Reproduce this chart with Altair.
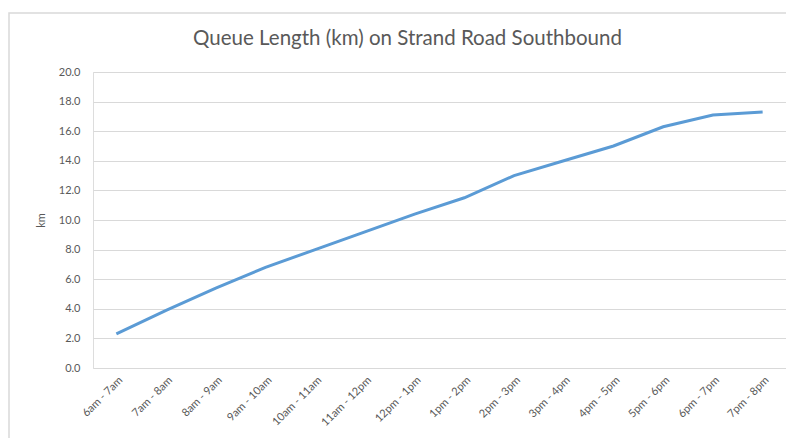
import altair as alt
import pandas as pd

categories = ["6am - 7am", "7am - 8am", "8am - 9am", "9am - 10am", "10am - 11am",
              "11am - 12pm", "12pm - 1pm", "1pm - 2pm", "2pm - 3pm", "3pm - 4pm",
              "4pm - 5pm", "5pm - 6pm", "6pm - 7pm", "7pm - 8pm"]
queue_km = [2.3, 3.9, 5.4, 6.8, 8.0, 9.2, 10.4, 11.5, 13.0, 14.0, 15.0, 16.3, 17.1, 17.3]
y_ticks = [0, 2, 4, 6, 8, 10, 12, 14, 16, 18, 20]

df = pd.DataFrame({"slot": categories, "km": queue_km})

W, H = 693, 296
FONT = "Lato"
GREY = "#595959"

border = alt.Chart(pd.DataFrame({"a": [0]})).mark_rect(
    fill="transparent", stroke="#d9d9d9", strokeWidth=1.5
).encode(
    x=alt.value(-84), x2=alt.value(W + 200), y=alt.value(-59), y2=alt.value(H + 200)
)

line = alt.Chart(df).mark_line(color="#5b9bd5", strokeWidth=3).encode(
    x=alt.X("slot:N", sort=categories, title=None,
            scale=alt.Scale(padding=0.47),
            axis=alt.Axis(labelAngle=-45, labelFont=FONT, labelFontSize=11,
                          labelColor=GREY, ticks=False, domain=False, grid=False,
                          labelPadding=6)),
    y=alt.Y("km:Q", title="km",
            scale=alt.Scale(domain=[0, 20], nice=False),
            axis=alt.Axis(values=y_ticks, format=".1f", labelFont=FONT,
                          labelFontSize=11, labelColor=GREY, ticks=False,
                          domain=False, gridColor="#d9d9d9", gridWidth=1,
                          labelPadding=13, titleFont=FONT, titleFontSize=11,
                          titleColor=GREY, titleFontWeight="normal",
                          titlePadding=12)),
)

chart = alt.layer(border, line).properties(
    width=W, height=H,
    title=alt.TitleParams("Queue Length (km) on Strand Road Southbound",
                          font=FONT, fontSize=20.5, fontWeight="normal",
                          color=GREY, anchor="middle", dx=-32, offset=-37),
    autosize=alt.AutoSizeParams(type="none"),
    padding={"left": 85, "top": 64, "right": 0, "bottom": 70},
).configure_view(stroke=None).configure(background="white")

chart.save("out.html", embed_options={"renderer": "svg", "actions": False})
